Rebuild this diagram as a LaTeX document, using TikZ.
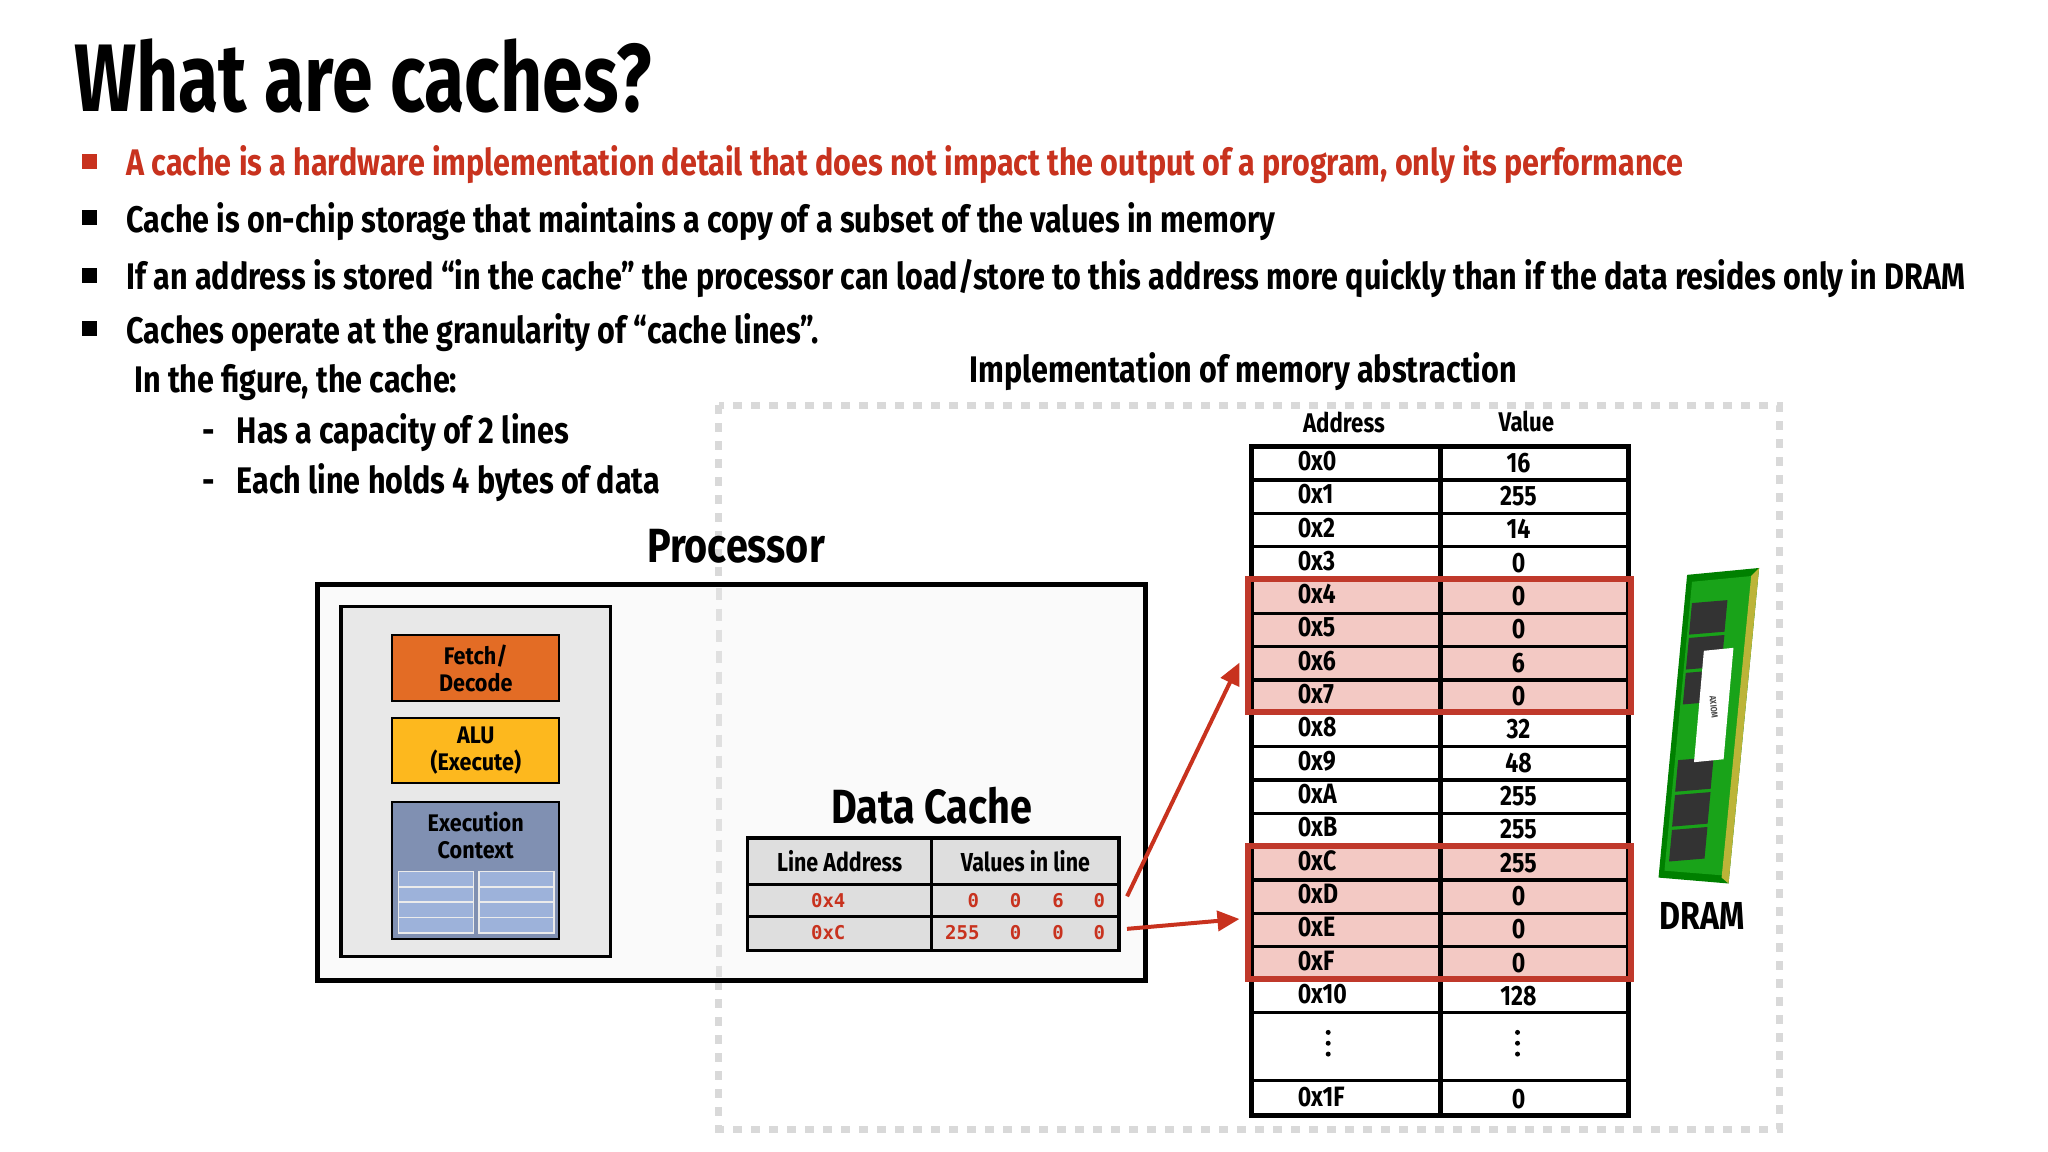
\documentclass[tikz,border=0pt]{standalone}
\usepackage{fontspec}
\setmainfont{Fira Sans}[FakeStretch=0.825]
\newfontfamily\titlefont{Fira Sans}[FakeStretch=0.765]
\newfontfamily\labfont{Fira Sans}[FakeStretch=0.9]
\newfontfamily\monof{DejaVu Sans Mono}
\definecolor{sred}{HTML}{C8321E}
\definecolor{forange}{HTML}{E36C25}
\definecolor{ayellow}{HTML}{FDB81E}
\definecolor{ecblue}{HTML}{8090B2}
\definecolor{ecgrid}{HTML}{9DB2DA}
\definecolor{hlred}{HTML}{C0392B}
\definecolor{hlfill}{HTML}{F3C9C4}
\usetikzlibrary{arrows.meta,calc}
\tikzset{
 bul/.style={anchor=base west,inner sep=0pt,font=\fontsize{37}{40}\selectfont\bfseries},
 sq/.style={fill=black,minimum size=15pt,inner sep=0pt},
 unit/.style={draw=black,line width=2pt,align=center,inner sep=0pt,font=\labfont\fontsize{24}{27}\selectfont\bfseries},
 memtxt/.style={anchor=base west,inner sep=0pt,font=\fontsize{28}{30}\selectfont\bfseries},
 redarrow/.style={draw=sred,line width=4pt,-{Triangle[length=22pt,width=20pt]}},
}
\begin{document}
\begin{tikzpicture}[x=0.986pt,y=-0.986pt]
\useasboundingbox[fill=white] (0,0) rectangle (2077,1168);
% title
\node[anchor=base west,inner sep=0pt,font=\titlefont\fontsize{96}{100}\selectfont\bfseries] (title) at (75,113) {What are caches?};
% bullets
\node[sq,fill=sred] (s1) at (91,164) {};
\node[bul,text=sred] (b1) at (128,178) {A cache is a hardware implementation detail that does not impact the output of a program, only its performance};
\node[sq] (s2) at (91,221) {};
\node[bul] (b2) at (128,236) {Cache is on-chip storage that maintains a copy of a subset of the values in memory};
\node[sq] (s3) at (91,279) {};
\node[bul] (b3) at (128,294) {If an address is stored “in the cache” the processor can load/store to this address more quickly than if the data resides only in DRAM};
\node[sq] (s4) at (91,333) {};
\node[bul] (b4) at (128,348) {Caches operate at the granularity of “cache lines”.};
\node[bul] (f0) at (136,398) {In the figure, the cache:};
\node[bul] (f1) at (205,450) {-\hspace{22pt}Has a capacity of 2 lines};
\node[bul] (f2) at (205,500) {-\hspace{22pt}Each line holds 4 bytes of data};
\node[bul] (impl) at (983,388) {Implementation of memory abstraction};
% dotted frame
\draw[draw=black!15,line width=7pt,dash pattern=on 9pt off 9pt] (729,411) rectangle (1805,1145);
% processor
\node[anchor=base west,inner sep=0pt,font=\fontsize{48}{52}\selectfont\bfseries] (proc) at (656,570) {Processor};
\draw[line width=5pt,fill=black!2] (322,593) rectangle (1162,994);
\draw[draw=black!12,line width=6pt,dash pattern=on 12pt off 9pt] (729,596) -- (729,991);
\draw[line width=3.5pt,fill=black!9] (346,615) rectangle (619,970);
\node[unit,fill=forange,minimum width=167pt,minimum height=66pt] (fd) at (482.5,677.5) {Fetch/\\Decode};
\node[unit,fill=ayellow,minimum width=167pt,minimum height=65pt] (alu) at (482.5,761) {ALU\\(Execute)};
\node[unit,fill=ecblue,minimum width=167pt,minimum height=137pt] (ec) at (482.5,882.5) {};
\node[anchor=north,align=center,inner sep=0pt,font=\labfont\fontsize{24}{27}\selectfont\bfseries] (ect) at (482.5,823) {Execution\\Context};
\foreach \x in {404,486}{\foreach \r in {0,1,2,3}{
 \draw[draw=black!8,line width=1.5pt,fill=ecgrid] (\x,884+\r*15.5) rectangle (\x+76,884+\r*15.5+15.5);}}
% data cache
\node[anchor=base west,inner sep=0pt,font=\fontsize{48}{52}\selectfont\bfseries] (dct) at (843,835) {Data Cache};
\draw[line width=3.5pt,fill=black!13] (758,850) rectangle (1135,964);
\draw[line width=3pt] (758,897) -- (1135,897) (758,929) -- (1135,929) (945,850) -- (945,964);
\node[font=\fontsize{26}{28}\selectfont\bfseries,inner sep=0pt] (h1) at (851.5,873.5) {Line Address};
\node[font=\fontsize{26}{28}\selectfont\bfseries,inner sep=0pt] (h2) at (1040,873.5) {Values in line};
\tikzset{ct/.style={font=\monof\bfseries\fontsize{19}{22}\selectfont,text=sred,inner sep=0pt}}
\node[ct] (c1) at (840,913) {0x4};
\node[ct] (c2) at (840,946) {0xC};
\node[ct] at (987,913) {0}; \node[ct] at (1030,913) {0}; \node[ct] at (1073,913) {6}; \node[ct] at (1115,913) {0};
\node[ct] at (976,946) {255}; \node[ct] at (1030,946) {0}; \node[ct] at (1073,946) {0}; \node[ct] (c2e) at (1115,946) {0};
% memory table
\node[font=\fontsize{27}{28}\selectfont\bfseries,inner sep=0pt] (ha) at (1363,428) {Address};
\node[font=\fontsize{27}{28}\selectfont\bfseries,inner sep=0pt] (hv) at (1548,427) {Value};
\fill[hlfill] (1266,587) rectangle (1654,722);
\fill[hlfill] (1266,858) rectangle (1654,993);
\foreach \i/\a/\v in {0/0x0/16,1/0x1/255,2/0x2/14,3/0x3/0,4/0x4/0,5/0x5/0,6/0x6/6,7/0x7/0,8/0x8/32,9/0x9/48,10/0xA/255,11/0xB/255,12/0xC/255,13/0xD/0,14/0xE/0,15/0xF/0,16/0x10/128}{
 \draw[line width=3.5pt] (1269,453+\i*33.8) -- (1652,453+\i*33.8);
 \node[memtxt] at (1316,477+\i*33.8) {\a};
 \node[memtxt,anchor=base] at (1540,479+\i*33.8) {\v};
}
\draw[line width=3.5pt] (1269,1027) -- (1652,1027) (1269,1096) -- (1652,1096);
\foreach \x in {1347,1539}{\foreach \dy in {0,11,22}{\fill (\x,1047+\dy) circle (2.5pt);}}
\node[memtxt] at (1316,1122) {0x1F};
\node[memtxt,anchor=base] at (1540,1124) {0};
\draw[line width=5pt] (1269,453) rectangle (1652,1131);
\draw[line width=4.5pt] (1461,453) -- (1461,1131);
\draw[draw=hlred,line width=6pt] (1266,587) rectangle (1654,722);
\draw[draw=hlred,line width=6pt] (1266,858) rectangle (1654,993);
\coordinate (m1) at (1257,672);
\coordinate (m2) at (1257,932);
\coordinate (a1) at (1143,909);
\coordinate (a2) at (1143,942);
\draw[redarrow] (a1) -- (m1);
\draw[redarrow] (a2) -- (m2);
% DRAM stick
\fill[green!50!black] (1711,583) -- (1784,576) -- (1753,896) -- (1682,890) -- cycle;
\fill[green!60!black!90] (1716,590) -- (1778,584) -- (1750,888) -- (1688,883) -- cycle;
\fill[yellow!70!black] (1776,584) -- (1784,576) -- (1753,896) -- (1746,890) -- cycle;
\foreach \t in {0.08,0.2,0.32,0.62,0.74,0.86}{
 \fill[black!80] ($(1714,588)!\t!(1688,883)+(4,0)$) -- ++(36,-3) -- ++(-3,32) -- ++(-36,3) -- cycle;}
\fill[white] (1728,660) -- (1758,657) -- (1748,770) -- (1718,773) -- cycle;
\node[rotate=-84,font=\fontsize{9}{10}\selectfont\bfseries,text=black!70,inner sep=0pt] (ax) at (1738,717) {AXIOM};
\node[anchor=base west,inner sep=0pt,font=\fontsize{39}{40}\selectfont\bfseries] (dram) at (1683,943) {DRAM};
\end{tikzpicture}
\end{document}
